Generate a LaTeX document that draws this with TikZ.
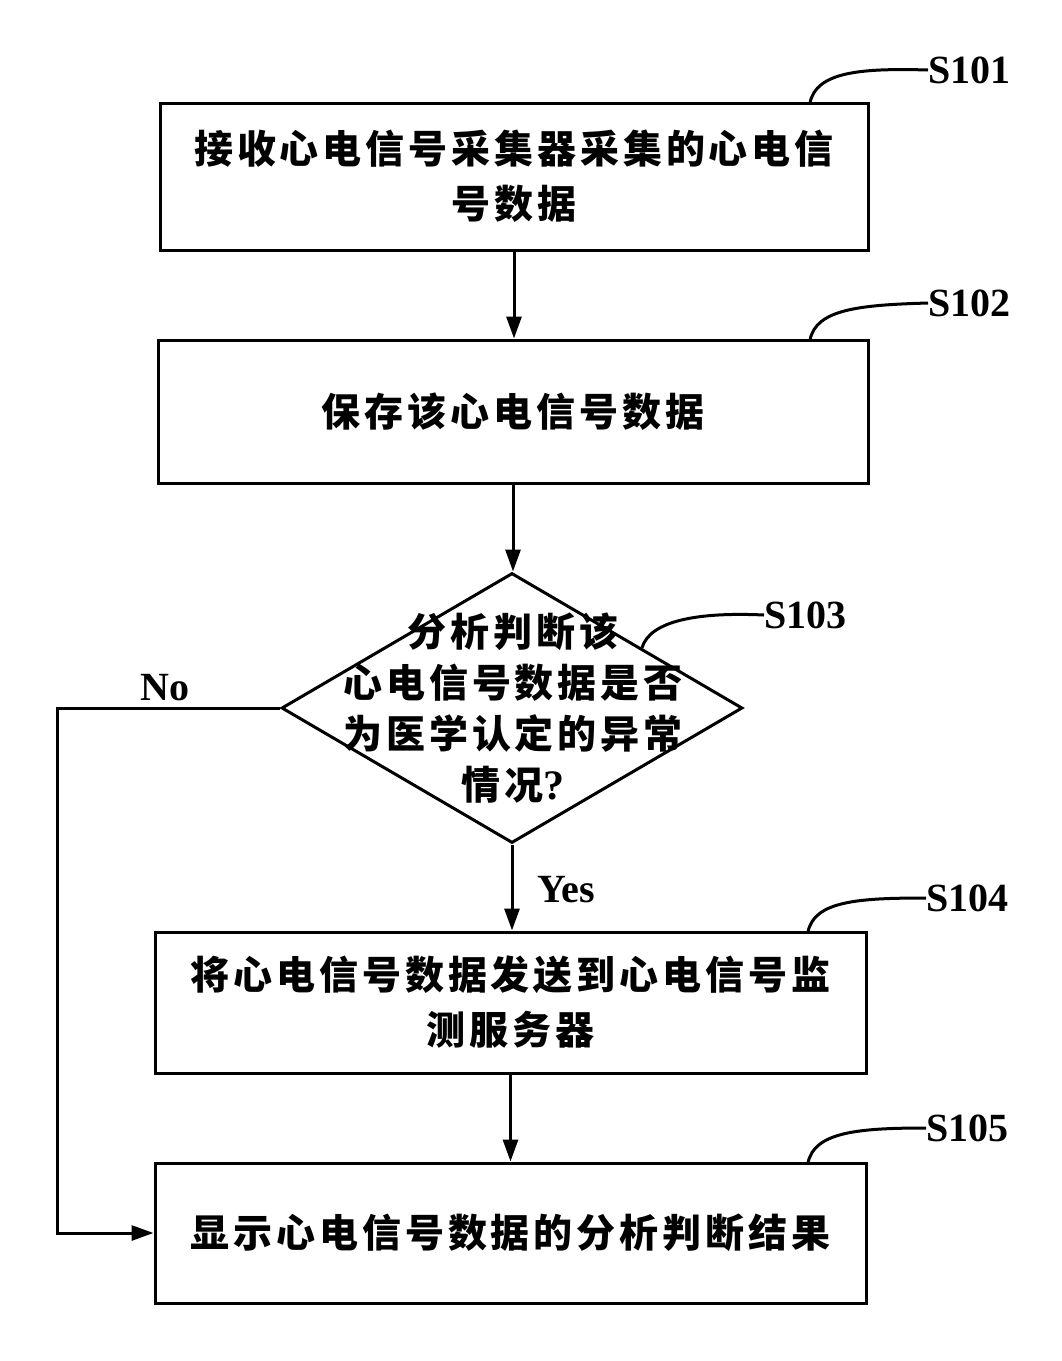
\documentclass[tikz,border=0pt]{standalone}
\usepackage{fontspec}
\setmainfont{Liberation Serif}
\newfontfamily\cjk{Noto Sans CJK SC}[LetterSpace=10]
\usetikzlibrary{shapes.geometric,arrows.meta,calc}
\begin{document}
\begin{tikzpicture}[x=1pt,y=-1pt,
  stepbox/.style={draw,line width=3pt,inner sep=0pt,align=center,
    font=\cjk\bfseries\fontsize{39}{55}\selectfont},
  dtext/.style={inner sep=0pt,align=center,
    font=\cjk\bfseries\fontsize{39}{51}\selectfont},
  lbl/.style={font=\bfseries\fontsize{40}{40}\selectfont,inner sep=0pt},
  conn/.style={line width=3pt,-{Triangle[length=22pt,width=15pt]}},
  lead/.style={line width=3pt}]
\useasboundingbox (0,0) rectangle (1061,1361);
\fill[white] (0,0) rectangle (1061,1361);

\node[stepbox,minimum width=708pt,minimum height=147pt] (s1) at (514,176.5)
  {接收心电信号采集器采集的心电信\\号数据};
\node[stepbox,minimum width=710pt,minimum height=143pt] (s2) at (513,411.5)
  {保存该心电信号数据};
\node[draw,line width=3pt,shape=diamond,inner sep=0pt,
  minimum width=461pt,minimum height=270pt] (d) at (512,708) {};
\node[dtext] (dt) at (513,708)
  {分析判断该\\心电信号数据是否\\为医学认定的异常\\情况{\rmfamily\bfseries\fontsize{42}{51}\selectfont ?}};
\node[stepbox,minimum width=711pt,minimum height=141pt] (s4) at (510.5,1002.5)
  {将心电信号数据发送到心电信号监\\测服务器};
\node[stepbox,minimum width=711pt,minimum height=140pt] (s5) at (510.5,1233)
  {显示心电信号数据的分析判断结果};

% labels
\node[lbl,anchor=west] (l1) at (928,70) {S101};
\node[lbl,anchor=west] (l2) at (928,303) {S102};
\node[lbl,anchor=west] (l3) at (764,615) {S103};
\node[lbl,anchor=west] (l4) at (926,898) {S104};
\node[lbl,anchor=west] (l5) at (926,1128) {S105};
\node[lbl] (no) at (165,688) {No};
\node[lbl] (yes) at (566,890) {Yes};

% leader curves
\coordinate (c1) at (810,103);
\coordinate (c2) at (810,340);
\coordinate (c3) at ($(d.north)!0.56!(d.east)$);
\coordinate (c4) at (808,932);
\coordinate (c5) at (808,1163);
\draw[lead] (c1) .. controls (816,72) and (860,68) .. (l1.west);
\draw[lead] (c2) .. controls (816,309) and (860,305) .. (l2.west);
\draw[lead] (c3) .. controls (650,620) and (700,612) .. (l3.west);
\draw[lead] (c4) .. controls (814,901) and (858,898) .. (l4.west);
\draw[lead] (c5) .. controls (814,1132) and (858,1128) .. (l5.west);

% connectors
\draw[conn] (s1.south) -- (s1.south |- s2.north);
\draw[conn] (s2.south) -- (s2.south |- d.north);
\draw[conn] (d.south) -- (d.south |- s4.north);
\draw[conn] (s4.south) -- (s4.south |- s5.north);
\coordinate (nc) at (57,708);
\draw[conn] (d.west) -- (nc) |- (s5.west);
\end{tikzpicture}
\end{document}
